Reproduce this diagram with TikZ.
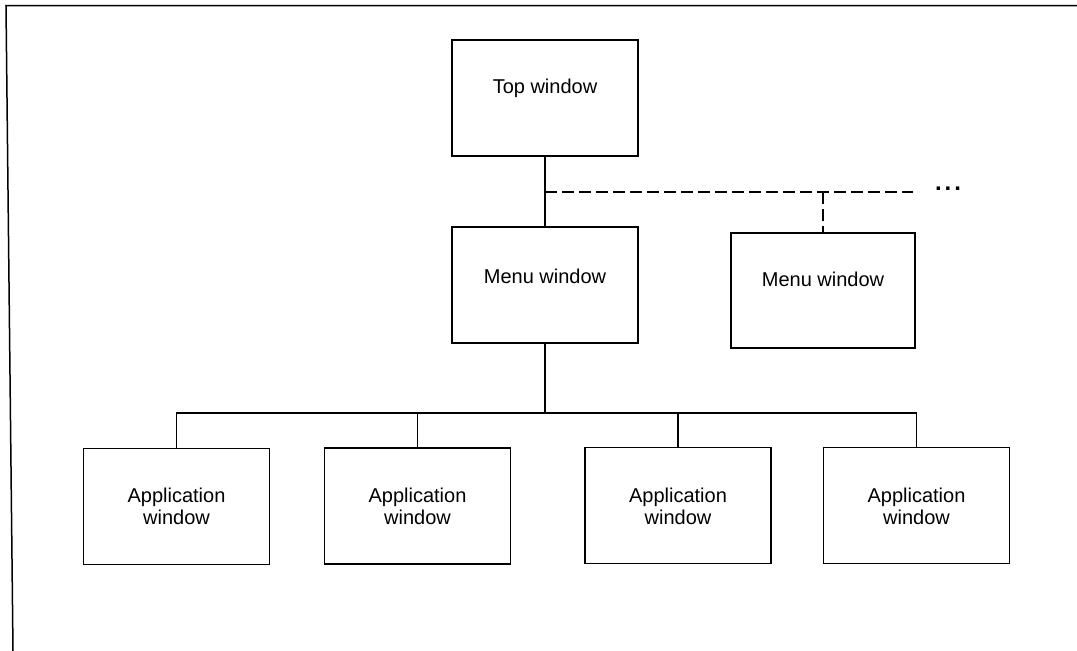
\documentclass[tikz,border=0pt]{standalone}
\usepackage{fontspec}
\setmainfont{Liberation Sans}
\begin{document}
\begin{tikzpicture}[x=1pt,y=-1pt,
  win/.style={draw, line width=1.3pt, minimum width=186pt, minimum height=116pt, inner sep=0pt},
  lbl/.style={font=\fontsize{20}{22}\selectfont, align=center, inner sep=0pt},
  link/.style={line width=1.3pt},
  dlink/.style={line width=1.3pt, dash pattern=on 12pt off 5pt}]
  \useasboundingbox (0,0) rectangle (1077,651);

  % frame (top and left edges only)
  \draw[line width=1.5pt] (1077,5.5) -- (6,5.5) -- (13,651);

  % boxes
  \node[win] (top)   at (545,98)    {};
  \node[win] (menuA) at (545,285)   {};
  \node[win, minimum width=184pt, minimum height=115pt] (menuB) at (823,290.5) {};
  \node[win] (app1)  at (176.5,506.5) {};
  \node[win] (app2)  at (417.5,506) {};
  \node[win] (app3)  at (678,505.5) {};
  \node[win] (app4)  at (916.5,505.5) {};

  % labels
  \node[lbl] (ttop)   at (545,88)  {Top window};
  \node[lbl] (tmenuA) at (545,276) {Menu window};
  \node[lbl] (tmenuB) at (823,279) {Menu window};
  \node[lbl] (tapp1)  at (176.5,506) {Application\\window};
  \node[lbl] (tapp2)  at (417.5,506) {Application\\window};
  \node[lbl] (tapp3)  at (678,506) {Application\\window};
  \node[lbl] (tapp4)  at (916.5,506) {Application\\window};

  % top window to menu windows
  \coordinate (j) at (545,192);
  \coordinate (dashend) at (913,192);
  \draw[link] (top.south) -- (menuA.north);
  \draw[dlink] (j) -- (dashend);
  \draw[dlink] (menuB.north |- j) -- (menuB.north);
  \node[font=\fontsize{24}{26}\selectfont\bfseries, inner sep=0pt, anchor=base] (more) at (948,190) {.\kern3pt.\kern3pt.};

  % menu window to application windows
  \coordinate (bus) at (545,413);
  \draw[link] (menuA.south) -- (bus);
  \draw[link] (app1.north) -- (app1.north |- bus) -- (app4.north |- bus) -- (app4.north);
  \draw[link] (app2.north |- bus) -- (app2.north);
  \draw[link] (app3.north |- bus) -- (app3.north);
\end{tikzpicture}
\end{document}
